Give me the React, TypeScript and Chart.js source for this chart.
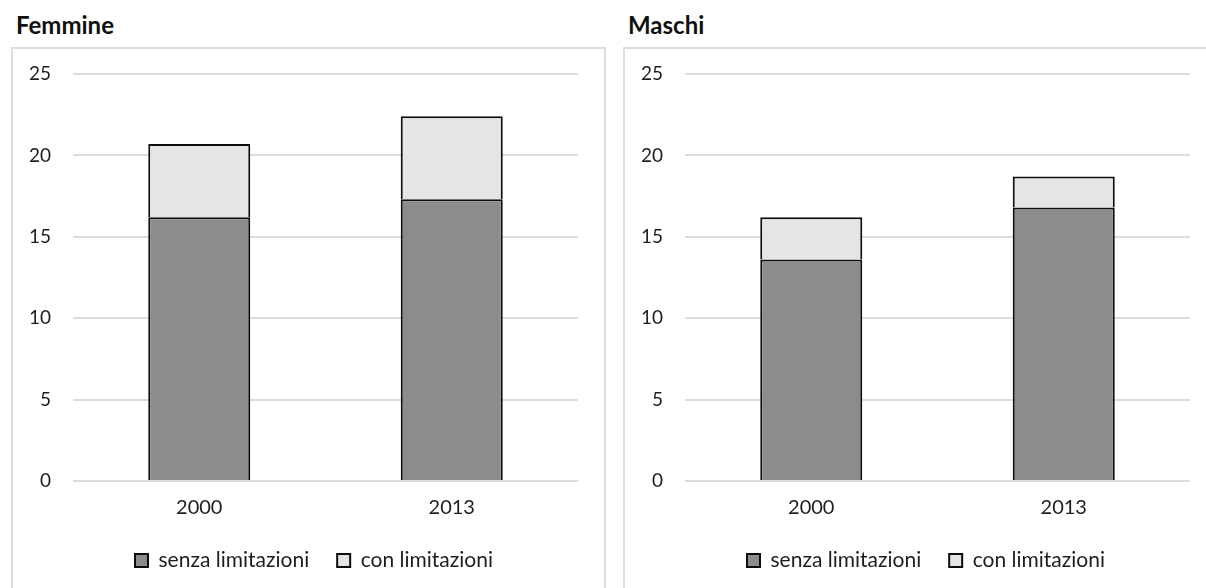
import React, { useEffect, useRef } from "react";
import { Chart, registerables } from "chart.js";

Chart.register(...registerables);

const categories = ["2000", "2013"];
const seriesLabels = ["senza limitazioni", "con limitazioni"];
const femmineSenza = [16.2, 17.3];
const femmineCon = [4.5, 5.1];
const maschiSenza = [13.6, 16.8];
const maschiCon = [2.6, 1.9];
const yTicks = [0, 5, 10, 15, 20, 25];

const FONT = "Lato";
const CANVAS_W = 594;
const CANVAS_H = 541;
const X_AXIS_H = 45;
const LEGEND_H = 54;
const LEGEND_PAD = 28;
const LEGEND_TOP = 475;

const legendPlace = {
  id: "legendPlace",
  beforeLayout(chart: any) {
    const lg = chart.legend;
    if (lg && !lg.__patched) {
      const f = lg.fit;
      lg.fit = function () {
        f.call(this);
        this.height = LEGEND_H;
      };
      lg.__patched = true;
    }
  },
  afterLayout(chart: any) {
    const lg = chart.legend;
    if (!lg) return;
    const w = lg.right - lg.left;
    lg.left = 124 - LEGEND_PAD;
    lg.right = lg.left + w;
    lg.top = LEGEND_TOP;
    lg.bottom = LEGEND_TOP + 60;
  },
};

function Panel({ senza, con }: { senza: number[]; con: number[] }) {
  const ref = useRef<HTMLCanvasElement>(null);
  useEffect(() => {
    let chart: Chart | null = null;
    let cancelled = false;
    const make = () => {
      if (cancelled || !ref.current) return;
      chart = new Chart(ref.current, {
        type: "bar",
        data: {
          labels: categories,
          datasets: [
            {
              label: seriesLabels[0],
              data: senza,
              backgroundColor: "#8c8c8c",
              borderColor: "#0d0d0d",
              borderWidth: 2,
            },
            {
              label: seriesLabels[1],
              data: con,
              backgroundColor: "#e5e5e5",
              borderColor: "#0d0d0d",
              borderWidth: 2,
            },
          ],
        },
        plugins: [legendPlace],
        options: {
          animation: false,
          responsive: false,
          maintainAspectRatio: false,
          datasets: {
            bar: { categoryPercentage: 1, barPercentage: 0.404 },
          },
          layout: { padding: { top: 27, right: 27, left: 0, bottom: CANVAS_H - 434 - X_AXIS_H - LEGEND_H } },
          scales: {
            x: {
              stacked: true,
              grid: { display: false, drawTicks: false },
              border: { display: false },
              ticks: { color: "#1e1e1e", font: { family: FONT, size: 20 }, padding: 15 },
              afterFit: (axis: any) => {
                axis.height = X_AXIS_H;
                axis.paddingLeft = 0;
                axis.paddingRight = 0;
                axis.paddingTop = 0;
                axis.paddingBottom = 0;
              },
            },
            y: {
              stacked: true,
              min: 0,
              max: 25,
              afterBuildTicks: (axis: any) => {
                axis.ticks = yTicks.map((v) => ({ value: v }));
              },
              grid: { color: "#dcdcdc", lineWidth: 2, drawTicks: false },
              border: { display: false },
              ticks: { color: "#1e1e1e", font: { family: FONT, size: 19 }, padding: 22 },
              afterFit: (axis: any) => {
                axis.width = 62;
                axis.paddingTop = 0;
                axis.paddingBottom = 0;
                axis.paddingLeft = 0;
                axis.paddingRight = 0;
              },
            },
          },
          plugins: {
            legend: {
              position: "bottom",
              align: "start",
              labels: {
                color: "#1e1e1e",
                font: { family: FONT, size: 21 },
                boxWidth: 13,
                boxHeight: 13,
                padding: LEGEND_PAD,
              },
            },
            title: { display: false },
            tooltip: { enabled: false },
          },
        },
      });
    };
    const fontsReady = (document as any).fonts
      ? Promise.all([
          (document as any).fonts.load(`20px ${FONT}`),
          (document as any).fonts.load(`bold 24px ${FONT}`),
        ]).catch(() => null)
      : Promise.resolve();
    fontsReady.then(make);
    return () => {
      cancelled = true;
      if (chart) chart.destroy();
    };
  }, [senza, con]);
  return <canvas ref={ref} width={CANVAS_W} height={CANVAS_H} style={{ width: CANVAS_W, height: CANVAS_H, display: "block" }} />;
}

const titleStyle: React.CSSProperties = {
  position: "absolute",
  top: 13,
  fontFamily: FONT,
  fontWeight: 700,
  fontSize: 24,
  lineHeight: "24px",
  color: "#111",
  whiteSpace: "nowrap",
};

export default function App() {
  const panels = [
    { title: "Femmine", left: 11, senza: femmineSenza, con: femmineCon },
    { title: "Maschi", left: 623, senza: maschiSenza, con: maschiCon },
  ];
  return (
    <div style={{ position: "absolute", left: 0, top: 0, width: 1206, height: 588, overflow: "hidden", background: "#fff" }}>
      {panels.map((p) => (
        <React.Fragment key={p.title}>
          <div style={{ ...titleStyle, left: p.left + 5 }}>{p.title}</div>
          <div style={{ position: "absolute", left: p.left, top: 47, width: CANVAS_W, height: CANVAS_H }}>
            <Panel senza={p.senza} con={p.con} />
          </div>
          <div
            style={{
              position: "absolute",
              left: p.left,
              top: 47,
              width: 595,
              height: 580,
              boxSizing: "border-box",
              border: "2px solid #dedede",
              pointerEvents: "none",
            }}
          />
        </React.Fragment>
      ))}
    </div>
  );
}
